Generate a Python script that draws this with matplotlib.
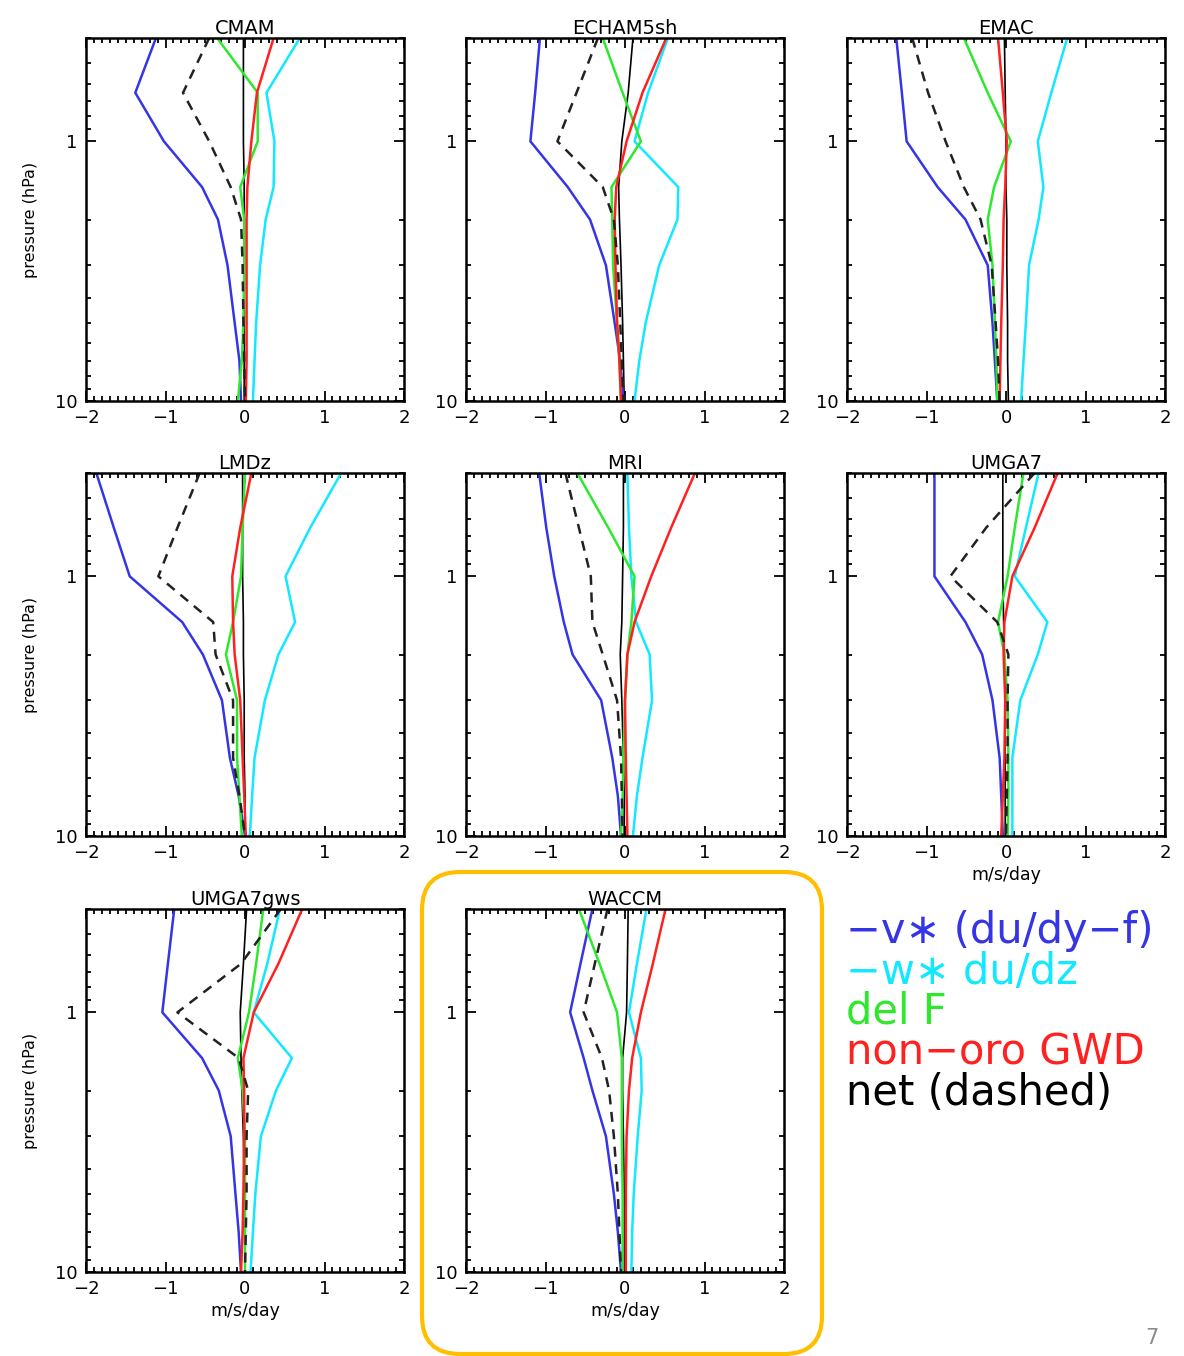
import matplotlib
matplotlib.use("Agg")
import matplotlib.pyplot as plt
import matplotlib.ticker as mticker
import matplotlib.transforms as mtransforms
from matplotlib.patches import FancyBboxPatch

# pressure levels (hPa)
plev = [0.4, 0.65, 1, 1.5, 2, 3, 5, 7, 10]

models = ["CMAM", "ECHAM5sh", "EMAC", "LMDz", "MRI", "UMGA7", "UMGA7gws", "WACCM"]

# -v* (du/dy - f)
vstar = [
    [-1.12, -1.38, -1.02, -0.54, -0.34, -0.22, -0.13, -0.07, -0.05],
    [-1.07, -1.13, -1.19, -0.72, -0.44, -0.24, -0.13, -0.06, -0.02],
    [-1.38, -1.31, -1.25, -0.86, -0.51, -0.23, -0.17, -0.14, -0.11],
    [-1.87, -1.65, -1.45, -0.79, -0.53, -0.29, -0.19, -0.08, 0.00],
    [-1.08, -0.99, -0.89, -0.77, -0.66, -0.30, -0.16, -0.09, -0.05],
    [-0.90, -0.90, -0.90, -0.51, -0.30, -0.17, -0.08, -0.06, -0.04],
    [-0.89, -0.97, -1.04, -0.54, -0.33, -0.18, -0.12, -0.08, -0.05],
    [-0.41, -0.56, -0.69, -0.52, -0.41, -0.24, -0.14, -0.09, -0.05],
]
# -w* du/dz
wstar = [
    [0.69, 0.27, 0.37, 0.36, 0.26, 0.19, 0.14, 0.12, 0.10],
    [0.54, 0.29, 0.12, 0.67, 0.66, 0.43, 0.26, 0.18, 0.12],
    [0.77, 0.57, 0.40, 0.47, 0.41, 0.29, 0.25, 0.22, 0.19],
    [1.21, 0.82, 0.51, 0.63, 0.42, 0.25, 0.12, 0.09, 0.06],
    [0.03, 0.05, 0.08, 0.14, 0.31, 0.34, 0.22, 0.15, 0.10],
    [0.41, 0.25, 0.11, 0.52, 0.40, 0.18, 0.08, 0.08, 0.08],
    [0.44, 0.28, 0.11, 0.59, 0.39, 0.20, 0.13, 0.10, 0.07],
    [0.27, 0.15, 0.05, 0.20, 0.21, 0.16, 0.11, 0.09, 0.08],
]
# del F
delf = [
    [-0.35, 0.16, 0.16, -0.06, -0.01, -0.01, -0.02, -0.04, -0.09],
    [-0.28, -0.03, 0.20, -0.17, -0.16, -0.15, -0.10, -0.07, -0.05],
    [-0.53, -0.23, 0.06, -0.15, -0.23, -0.17, -0.14, -0.12, -0.11],
    [0.00, -0.03, -0.05, -0.15, -0.24, -0.10, -0.10, -0.07, -0.04],
    [-0.60, -0.21, 0.12, 0.08, 0.03, 0.00, -0.02, -0.03, -0.05],
    [0.22, 0.11, 0.02, -0.10, -0.02, 0.02, 0.03, 0.03, 0.02],
    [0.23, 0.14, 0.05, -0.09, -0.03, 0.00, 0.00, 0.00, 0.00],
    [-0.58, -0.32, -0.10, -0.04, -0.04, -0.04, -0.03, -0.03, -0.03],
]
# non-orographic GWD
gwd = [
    [0.36, 0.15, 0.08, 0.03, 0.02, 0.02, 0.02, 0.02, 0.01],
    [0.52, 0.22, 0.02, -0.11, -0.13, -0.12, -0.10, -0.07, -0.05],
    [-0.10, -0.04, 0.01, -0.01, -0.03, -0.04, -0.06, -0.07, -0.08],
    [0.08, -0.06, -0.16, -0.15, -0.13, -0.06, -0.03, -0.01, 0.01],
    [0.88, 0.58, 0.33, 0.12, 0.03, 0.00, 0.01, 0.02, 0.03],
    [0.65, 0.36, 0.08, -0.02, -0.03, -0.01, -0.02, -0.04, -0.06],
    [0.72, 0.42, 0.11, -0.02, -0.01, -0.01, -0.02, -0.03, -0.05],
    [0.51, 0.35, 0.20, 0.09, 0.05, 0.02, 0.01, 0.01, 0.01],
]
# net (dashed)
net = [
    [-0.45, -0.78, -0.45, -0.18, -0.05, -0.03, -0.02, -0.01, 0.00],
    [-0.34, -0.61, -0.85, -0.28, -0.14, -0.09, -0.06, -0.04, -0.02],
    [-1.18, -0.98, -0.76, -0.53, -0.32, -0.18, -0.13, -0.10, -0.08],
    [-0.57, -0.85, -1.09, -0.40, -0.37, -0.15, -0.15, -0.07, 0.00],
    [-0.75, -0.58, -0.43, -0.41, -0.28, -0.10, -0.05, -0.04, -0.03],
    [0.36, -0.25, -0.70, -0.11, 0.03, 0.02, 0.02, 0.01, 0.00],
    [0.45, -0.05, -0.85, -0.08, 0.04, 0.02, 0.02, 0.01, 0.00],
    [-0.22, -0.38, -0.52, -0.29, -0.20, -0.14, -0.09, -0.07, -0.05],
]
# thin solid black line (tendency)
dudt = [
    [-0.02, -0.02, -0.02, -0.01, -0.01, -0.01, -0.01, -0.01, -0.01],
    [0.10, 0.04, -0.04, -0.08, -0.07, -0.05, -0.03, -0.02, -0.01],
    [-0.02, -0.01, 0.00, 0.00, 0.01, 0.01, 0.02, 0.02, 0.03],
    [-0.03, -0.03, -0.03, -0.02, -0.02, -0.01, -0.01, 0.00, 0.00],
    [-0.02, -0.02, -0.03, -0.04, -0.06, -0.04, -0.02, -0.01, -0.01],
    [-0.04, -0.04, -0.04, -0.03, -0.02, -0.01, -0.01, -0.01, -0.01],
    [0.02, -0.02, -0.06, -0.05, -0.04, -0.02, -0.01, 0.00, 0.00],
    [0.04, 0.03, 0.02, -0.03, -0.03, -0.02, -0.01, -0.01, -0.01],
]

legend_labels = ["\u2212v\u2217 (du/dy\u2212f)", "\u2212w\u2217 du/dz", "del F",
                 "non\u2212oro GWD", "net (dashed)"]

c_blue = "#3535e6"
c_cyan = "#12e8ff"
c_green = "#2ee82e"
c_red = "#ff2020"
legend_colors = [c_blue, c_cyan, c_green, c_red, "black"]

W, H = 1184, 1356
fig = plt.figure(figsize=(W / 100, H / 100), dpi=100)

col_left = [86, 466, 847]
row_top = [38, 473, 909]
ax_w, ax_h = 318, 363

for i, name in enumerate(models):
    r, c = divmod(i, 3)
    ax = fig.add_axes([col_left[c] / W, 1 - (row_top[r] + ax_h) / H, ax_w / W, ax_h / H])
    ax.plot(dudt[i], plev, color="black", lw=1.2)
    ax.plot(vstar[i], plev, color=c_blue, lw=1.8)
    ax.plot(wstar[i], plev, color=c_cyan, lw=1.8)
    ax.plot(delf[i], plev, color=c_green, lw=1.8)
    ax.plot(gwd[i], plev, color=c_red, lw=1.8)
    ax.plot(net[i], plev, color="#222222", lw=1.8, linestyle=(0, (4, 3)))

    ax.set_yscale("log")
    ax.set_ylim(10, 0.4)
    ax.set_xlim(-2, 2)
    ax.yaxis.set_major_locator(mticker.FixedLocator([1, 10]))
    ax.yaxis.set_major_formatter(mticker.FixedFormatter(["1", "10"]))
    ax.yaxis.set_minor_locator(mticker.LogLocator(base=10, subs=range(2, 10)))
    ax.yaxis.set_minor_formatter(mticker.NullFormatter())
    ax.xaxis.set_major_locator(mticker.MultipleLocator(1))
    ax.xaxis.set_minor_locator(mticker.MultipleLocator(0.1))
    ax.xaxis.set_major_formatter(mticker.FuncFormatter(lambda v, p: f"{v:.0f}".replace("-", "\u2212")))
    ax.tick_params(which="both", direction="in", top=True, right=True, width=1.3)
    ax.tick_params(which="major", length=7, labelsize=13, pad=6)
    ax.tick_params(which="minor", length=3.5)
    for s in ax.spines.values():
        s.set_linewidth(1.8)
    ax.set_title(name, fontsize=14, pad=3)
    if c == 0:
        ax.set_ylabel("pressure (hPa)", fontsize=11.5, labelpad=12)
    if r == 2 or (r == 1 and c == 2):
        ax.set_xlabel("m/s/day", fontsize=12.5, labelpad=3)

# legend text
for k, (lab, col) in enumerate(zip(legend_labels, legend_colors)):
    fig.text(846 / W, 1 - (943 + 40.5 * k) / H, lab, color=col, fontsize=30,
             ha="left", va="baseline")

# highlight box around WACCM
box = FancyBboxPatch((422, H - 1354), 400, 482, boxstyle="round,pad=0,rounding_size=38",
                     transform=mtransforms.IdentityTransform(), fill=False,
                     edgecolor="#ffbf00", linewidth=3)
fig.patches.append(box)

fig.text(1152 / W, 1 - 1338 / H, "7", color="#8c8c8c", fontsize=15, ha="center", va="center")

fig.savefig("out.png", dpi=100)
